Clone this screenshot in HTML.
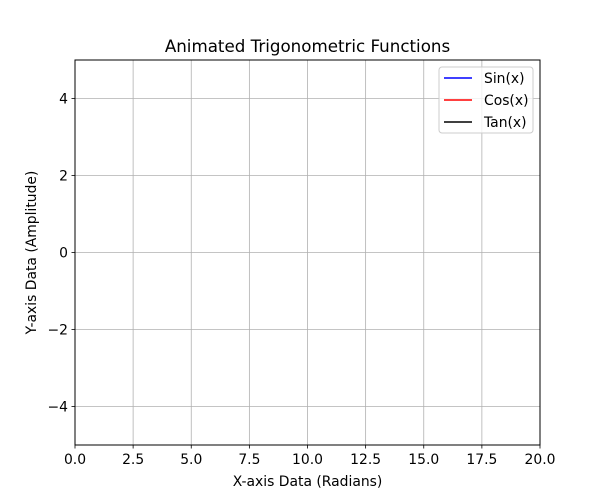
<!DOCTYPE html>
<html><head><meta charset="utf-8"><style>
body{margin:0;background:#fff;}
svg{display:block;font-family:"DejaVu Sans","Liberation Sans",sans-serif;}
</style></head><body>
<svg id="chart" width="600" height="500" viewBox="0 0 600 500">
<rect width="600" height="500" fill="#ffffff"/>
<rect x="75" y="60" width="465" height="385" fill="#ffffff"/>
<g id="grid"></g>
<g id="series"></g>
<rect x="75" y="60" width="465" height="385" fill="none" stroke="#000" stroke-width="1"/>
<g id="ticks"></g>
<text x="307.5" y="52" text-anchor="middle" font-size="16.7">Animated Trigonometric Functions</text>
<text x="307.5" y="486" text-anchor="middle" font-size="13.9">X-axis Data (Radians)</text>
<text transform="translate(36,252.5) rotate(-90)" text-anchor="middle" font-size="13.9">Y-axis Data (Amplitude)</text>
<g id="legend"></g>
</svg>
<script>
const xTicks=[0,2.5,5,7.5,10,12.5,15,17.5,20];
const xTickLabels=["0.0","2.5","5.0","7.5","10.0","12.5","15.0","17.5","20.0"];
const yTicks=[-4,-2,0,2,4];
const yTickLabels=["\u22124","\u22122","0","2","4"];
const seriesNames=["Sin(x)","Cos(x)","Tan(x)"];
const seriesColors=["#0000ff","#ff0000","#000000"];
const xData=[];
const sinValues=[];
const cosValues=[];
const tanValues=[];
const NS="http://www.w3.org/2000/svg";
const X0=75,X1=540,Y0=445,Y1=60,xMin=0,xMax=20,yMin=-5,yMax=5;
function sx(v){return X0+(v-xMin)/(xMax-xMin)*(X1-X0);}
function sy(v){return Y0-(v-yMin)/(yMax-yMin)*(Y0-Y1);}
function mk(tag,attrs,parent){const e=document.createElementNS(NS,tag);for(const k in attrs)e.setAttribute(k,attrs[k]);parent.appendChild(e);return e;}
const grid=document.getElementById('grid'),ticks=document.getElementById('ticks');
xTicks.forEach((t,i)=>{const x=sx(t);
 let g=mk('line',{x1:x,x2:x,y1:Y1,y2:Y0,stroke:'#b0b0b0','stroke-width':0.8},grid);
 
 
 let tk=mk('line',{x1:x,x2:x,y1:Y0,y2:Y0+3.5,stroke:'#000','stroke-width':0.8},ticks);
 
 
 let tx=mk('text',{x:x,y:Y0+19,'text-anchor':'middle','font-size':13.9},ticks);tx.textContent=xTickLabels[i];
 
 
});
yTicks.forEach((t,i)=>{const y=sy(t);
 let g=mk('line',{x1:X0,x2:X1,y1:y,y2:y,stroke:'#b0b0b0','stroke-width':0.8},grid);
 
 
 let tk=mk('line',{x1:X0-3.5,x2:X0,y1:y,y2:y,stroke:'#000','stroke-width':0.8},ticks);
 
 
 let tx=mk('text',{x:X0-7,y:y+5,'text-anchor':'end','font-size':13.9},ticks);tx.textContent=yTickLabels[i];
 
 
});
const series=document.getElementById('series');
[sinValues,cosValues,tanValues].forEach((vals,si)=>{
 const pts=vals.map((v,i)=>sx(xData[i])+','+sy(v)).join(' ');
 let p=mk('polyline',{points:pts,fill:'none',stroke:seriesColors[si],'stroke-width':1.5},series);
 
 
});
const legend=document.getElementById('legend');
let box=mk('rect',{x:439,y:67,width:94,height:66,rx:3,fill:'#fff','fill-opacity':0.8,stroke:'#cccccc','stroke-width':1},legend);


seriesNames.forEach((n,i)=>{const y=78+i*22;
 let l=mk('line',{x1:444,x2:472,y1:y,y2:y,stroke:seriesColors[i],'stroke-width':1.5},legend);
 
 
 let t=mk('text',{x:484,y:y+5,'font-size':13.9},legend);t.textContent=n;
 
 
});
</script>
</body></html>
